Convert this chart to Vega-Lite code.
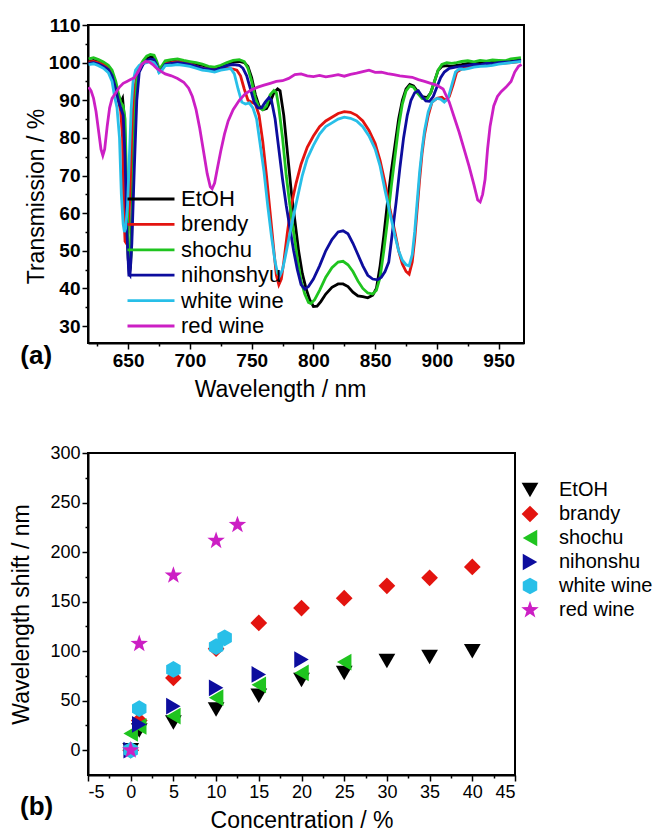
{
  "$schema": "https://vega.github.io/schema/vega-lite/v6.json",
  "padding": {"left": 9, "top": 15, "right": 0, "bottom": 0},
  "spacing": 41,
  "config": {
    "font": "Liberation Sans",
    "view": {"stroke": "black", "strokeWidth": 2},
    "axis": {"domainColor": "black", "domainWidth": 2, "tickColor": "black", "tickWidth": 1.5, "labelColor": "black", "titleColor": "black", "grid": false, "titleFontWeight": "normal", "titleFontSize": 23, "labelFont": "Liberation Sans", "titleFont": "Liberation Sans", "labelOverlap": false, "labelPadding": 2},
    "legend": {"labelFont": "Liberation Sans", "labelColor": "black", "padding": 0}
  },
  "datasets": {
    "spectra": [
      {"s":"EtOH","w":618,"t":100.3},{"s":"EtOH","w":622,"t":100.6},{"s":"EtOH","w":626,"t":100.2},{"s":"EtOH","w":630,"t":99.8},{"s":"EtOH","w":634,"t":99.0},{"s":"EtOH","w":637,"t":97.5},{"s":"EtOH","w":640,"t":94},{"s":"EtOH","w":642,"t":91.5},{"s":"EtOH","w":644,"t":89.5},{"s":"EtOH","w":645.5,"t":90.5},{"s":"EtOH","w":647,"t":85},{"s":"EtOH","w":648.5,"t":65},{"s":"EtOH","w":650,"t":48},{"s":"EtOH","w":651,"t":44},{"s":"EtOH","w":652,"t":46},{"s":"EtOH","w":653.5,"t":65},{"s":"EtOH","w":655,"t":82},{"s":"EtOH","w":657,"t":95},{"s":"EtOH","w":659,"t":98.5},{"s":"EtOH","w":662,"t":100},{"s":"EtOH","w":665,"t":101},{"s":"EtOH","w":668,"t":101.5},{"s":"EtOH","w":671,"t":101.5},{"s":"EtOH","w":673,"t":100},{"s":"EtOH","w":675,"t":98},{"s":"EtOH","w":677,"t":98.5},{"s":"EtOH","w":680,"t":100},{"s":"EtOH","w":685,"t":100.3},{"s":"EtOH","w":690,"t":100.5},{"s":"EtOH","w":695,"t":100.3},{"s":"EtOH","w":700,"t":100},{"s":"EtOH","w":705,"t":99.5},{"s":"EtOH","w":710,"t":99.3},{"s":"EtOH","w":715,"t":98.8},{"s":"EtOH","w":720,"t":98.5},{"s":"EtOH","w":725,"t":99},{"s":"EtOH","w":730,"t":99.5},{"s":"EtOH","w":735,"t":100.2},{"s":"EtOH","w":740,"t":100.3},{"s":"EtOH","w":744,"t":100},{"s":"EtOH","w":747,"t":99},{"s":"EtOH","w":750,"t":96},{"s":"EtOH","w":753,"t":91.5},{"s":"EtOH","w":756,"t":88.5},{"s":"EtOH","w":759,"t":87.5},{"s":"EtOH","w":762,"t":87.8},{"s":"EtOH","w":765,"t":89.5},{"s":"EtOH","w":768,"t":92},{"s":"EtOH","w":771,"t":93},{"s":"EtOH","w":773,"t":92.5},{"s":"EtOH","w":776,"t":86},{"s":"EtOH","w":779,"t":76},{"s":"EtOH","w":782,"t":66},{"s":"EtOH","w":785,"t":58},{"s":"EtOH","w":788,"t":50},{"s":"EtOH","w":791,"t":44},{"s":"EtOH","w":794,"t":40},{"s":"EtOH","w":797,"t":37},{"s":"EtOH","w":800,"t":35.2},{"s":"EtOH","w":803,"t":35.3},{"s":"EtOH","w":806,"t":36.5},{"s":"EtOH","w":810,"t":38.5},{"s":"EtOH","w":815,"t":40.3},{"s":"EtOH","w":820,"t":41.2},{"s":"EtOH","w":824,"t":41.2},{"s":"EtOH","w":828,"t":40.5},{"s":"EtOH","w":832,"t":39},{"s":"EtOH","w":836,"t":38},{"s":"EtOH","w":840,"t":37.8},{"s":"EtOH","w":844,"t":37.5},{"s":"EtOH","w":848,"t":38.2},{"s":"EtOH","w":851,"t":40},{"s":"EtOH","w":854,"t":46},{"s":"EtOH","w":857,"t":54},{"s":"EtOH","w":860,"t":63},{"s":"EtOH","w":863,"t":71},{"s":"EtOH","w":866,"t":78},{"s":"EtOH","w":869,"t":85},{"s":"EtOH","w":872,"t":90},{"s":"EtOH","w":875,"t":93},{"s":"EtOH","w":878,"t":94.2},{"s":"EtOH","w":881,"t":93.8},{"s":"EtOH","w":884,"t":92.5},{"s":"EtOH","w":888,"t":91},{"s":"EtOH","w":892,"t":90.7},{"s":"EtOH","w":895,"t":92},{"s":"EtOH","w":898,"t":95},{"s":"EtOH","w":901,"t":98},{"s":"EtOH","w":904,"t":99},{"s":"EtOH","w":908,"t":99.2},{"s":"EtOH","w":912,"t":99},{"s":"EtOH","w":916,"t":99.3},{"s":"EtOH","w":920,"t":99.5},{"s":"EtOH","w":925,"t":99.8},{"s":"EtOH","w":930,"t":99.7},{"s":"EtOH","w":935,"t":100},{"s":"EtOH","w":940,"t":99.8},{"s":"EtOH","w":945,"t":100.2},{"s":"EtOH","w":950,"t":100.3},{"s":"EtOH","w":955,"t":100.2},{"s":"EtOH","w":960,"t":100.5},{"s":"EtOH","w":965,"t":100.7},{"s":"EtOH","w":968,"t":101},
      {"s":"brendy","w":618,"t":100.2},{"s":"brendy","w":622,"t":100.3},{"s":"brendy","w":626,"t":100},{"s":"brendy","w":630,"t":99.5},{"s":"brendy","w":634,"t":98.5},{"s":"brendy","w":637,"t":97},{"s":"brendy","w":640,"t":93},{"s":"brendy","w":642,"t":90},{"s":"brendy","w":644,"t":87},{"s":"brendy","w":645.5,"t":80},{"s":"brendy","w":646.5,"t":60},{"s":"brendy","w":647.5,"t":52.5},{"s":"brendy","w":648.5,"t":52},{"s":"brendy","w":650,"t":55},{"s":"brendy","w":651.5,"t":65},{"s":"brendy","w":653,"t":80},{"s":"brendy","w":655,"t":92},{"s":"brendy","w":657,"t":97},{"s":"brendy","w":659,"t":98.8},{"s":"brendy","w":662,"t":99.8},{"s":"brendy","w":665,"t":100.5},{"s":"brendy","w":668,"t":100.8},{"s":"brendy","w":671,"t":100.5},{"s":"brendy","w":673,"t":99.5},{"s":"brendy","w":675,"t":97.8},{"s":"brendy","w":677,"t":98.3},{"s":"brendy","w":680,"t":99.8},{"s":"brendy","w":685,"t":100},{"s":"brendy","w":690,"t":100.3},{"s":"brendy","w":695,"t":100},{"s":"brendy","w":700,"t":99.7},{"s":"brendy","w":705,"t":99},{"s":"brendy","w":710,"t":98.5},{"s":"brendy","w":715,"t":98.3},{"s":"brendy","w":720,"t":98},{"s":"brendy","w":725,"t":98.3},{"s":"brendy","w":730,"t":98.5},{"s":"brendy","w":735,"t":98.3},{"s":"brendy","w":738,"t":98},{"s":"brendy","w":741,"t":96.5},{"s":"brendy","w":744,"t":93},{"s":"brendy","w":747,"t":90},{"s":"brendy","w":750,"t":89.5},{"s":"brendy","w":753,"t":89},{"s":"brendy","w":756,"t":86},{"s":"brendy","w":759,"t":79},{"s":"brendy","w":762,"t":70},{"s":"brendy","w":765,"t":60},{"s":"brendy","w":768,"t":50},{"s":"brendy","w":770,"t":43.5},{"s":"brendy","w":772,"t":41},{"s":"brendy","w":774,"t":42.5},{"s":"brendy","w":776,"t":47},{"s":"brendy","w":779,"t":55},{"s":"brendy","w":782,"t":62},{"s":"brendy","w":786,"t":68},{"s":"brendy","w":790,"t":73},{"s":"brendy","w":795,"t":77.5},{"s":"brendy","w":800,"t":80.5},{"s":"brendy","w":805,"t":83},{"s":"brendy","w":810,"t":84.5},{"s":"brendy","w":815,"t":85.5},{"s":"brendy","w":820,"t":86.5},{"s":"brendy","w":825,"t":87},{"s":"brendy","w":830,"t":86.8},{"s":"brendy","w":835,"t":86},{"s":"brendy","w":840,"t":84.5},{"s":"brendy","w":845,"t":82},{"s":"brendy","w":850,"t":78.5},{"s":"brendy","w":854,"t":74},{"s":"brendy","w":858,"t":68},{"s":"brendy","w":862,"t":61},{"s":"brendy","w":866,"t":55},{"s":"brendy","w":869,"t":50},{"s":"brendy","w":872,"t":46.5},{"s":"brendy","w":875,"t":44.5},{"s":"brendy","w":877.5,"t":43.8},{"s":"brendy","w":880,"t":47},{"s":"brendy","w":882,"t":53},{"s":"brendy","w":884,"t":61},{"s":"brendy","w":886,"t":69},{"s":"brendy","w":888,"t":76},{"s":"brendy","w":890,"t":81},{"s":"brendy","w":893,"t":86},{"s":"brendy","w":896,"t":89.5},{"s":"brendy","w":900,"t":90.5},{"s":"brendy","w":904,"t":90.8},{"s":"brendy","w":907,"t":90},{"s":"brendy","w":910,"t":91},{"s":"brendy","w":913,"t":94},{"s":"brendy","w":916,"t":97.5},{"s":"brendy","w":920,"t":98.3},{"s":"brendy","w":925,"t":98.8},{"s":"brendy","w":930,"t":99},{"s":"brendy","w":935,"t":99.2},{"s":"brendy","w":940,"t":99.3},{"s":"brendy","w":945,"t":99.5},{"s":"brendy","w":950,"t":99.8},{"s":"brendy","w":955,"t":99.9},{"s":"brendy","w":960,"t":100},{"s":"brendy","w":965,"t":100.2},{"s":"brendy","w":968,"t":100.4},
      {"s":"shochu","w":618,"t":101},{"s":"shochu","w":622,"t":101.3},{"s":"shochu","w":626,"t":100.8},{"s":"shochu","w":630,"t":100.2},{"s":"shochu","w":634,"t":99.3},{"s":"shochu","w":637,"t":98},{"s":"shochu","w":640,"t":95},{"s":"shochu","w":642,"t":92},{"s":"shochu","w":644,"t":89.5},{"s":"shochu","w":646,"t":88.5},{"s":"shochu","w":647.5,"t":85},{"s":"shochu","w":649,"t":65},{"s":"shochu","w":650.5,"t":50},{"s":"shochu","w":651.5,"t":45.5},{"s":"shochu","w":652.5,"t":50},{"s":"shochu","w":654,"t":68},{"s":"shochu","w":655.5,"t":85},{"s":"shochu","w":657,"t":95},{"s":"shochu","w":659,"t":98.8},{"s":"shochu","w":662,"t":100.5},{"s":"shochu","w":665,"t":101.7},{"s":"shochu","w":668,"t":102.2},{"s":"shochu","w":671,"t":102},{"s":"shochu","w":673,"t":100.5},{"s":"shochu","w":675,"t":98.5},{"s":"shochu","w":677,"t":99},{"s":"shochu","w":680,"t":100.5},{"s":"shochu","w":685,"t":100.8},{"s":"shochu","w":690,"t":101},{"s":"shochu","w":695,"t":100.6},{"s":"shochu","w":700,"t":100.3},{"s":"shochu","w":705,"t":100},{"s":"shochu","w":710,"t":99.6},{"s":"shochu","w":715,"t":99},{"s":"shochu","w":720,"t":98.8},{"s":"shochu","w":725,"t":99.3},{"s":"shochu","w":730,"t":100},{"s":"shochu","w":735,"t":100.6},{"s":"shochu","w":740,"t":100.8},{"s":"shochu","w":744,"t":100.3},{"s":"shochu","w":747,"t":98.5},{"s":"shochu","w":750,"t":95},{"s":"shochu","w":753,"t":90.5},{"s":"shochu","w":756,"t":88},{"s":"shochu","w":759,"t":87.5},{"s":"shochu","w":762,"t":88.5},{"s":"shochu","w":765,"t":91.5},{"s":"shochu","w":768,"t":92.6},{"s":"shochu","w":770,"t":92},{"s":"shochu","w":772,"t":88},{"s":"shochu","w":775,"t":80},{"s":"shochu","w":778,"t":70},{"s":"shochu","w":781,"t":62},{"s":"shochu","w":784,"t":55},{"s":"shochu","w":787,"t":48},{"s":"shochu","w":790,"t":42},{"s":"shochu","w":793,"t":38.5},{"s":"shochu","w":796,"t":36.3},{"s":"shochu","w":798,"t":36},{"s":"shochu","w":801,"t":37},{"s":"shochu","w":805,"t":39.5},{"s":"shochu","w":810,"t":43},{"s":"shochu","w":815,"t":45.5},{"s":"shochu","w":820,"t":47},{"s":"shochu","w":824,"t":47.2},{"s":"shochu","w":828,"t":46.3},{"s":"shochu","w":832,"t":44.5},{"s":"shochu","w":836,"t":42},{"s":"shochu","w":840,"t":40},{"s":"shochu","w":844,"t":38.8},{"s":"shochu","w":848,"t":38.5},{"s":"shochu","w":851,"t":39.5},{"s":"shochu","w":854,"t":43},{"s":"shochu","w":857,"t":50},{"s":"shochu","w":860,"t":58},{"s":"shochu","w":863,"t":67},{"s":"shochu","w":866,"t":75},{"s":"shochu","w":869,"t":83},{"s":"shochu","w":872,"t":89},{"s":"shochu","w":875,"t":92.5},{"s":"shochu","w":878,"t":93.8},{"s":"shochu","w":881,"t":93.5},{"s":"shochu","w":884,"t":92},{"s":"shochu","w":888,"t":90.5},{"s":"shochu","w":892,"t":90.3},{"s":"shochu","w":895,"t":92},{"s":"shochu","w":898,"t":95},{"s":"shochu","w":901,"t":98},{"s":"shochu","w":904,"t":99.5},{"s":"shochu","w":908,"t":100},{"s":"shochu","w":912,"t":99.8},{"s":"shochu","w":916,"t":100},{"s":"shochu","w":920,"t":100.3},{"s":"shochu","w":925,"t":100.5},{"s":"shochu","w":930,"t":100.2},{"s":"shochu","w":935,"t":100.6},{"s":"shochu","w":940,"t":100.4},{"s":"shochu","w":945,"t":100.7},{"s":"shochu","w":950,"t":100.6},{"s":"shochu","w":955,"t":100.5},{"s":"shochu","w":960,"t":101},{"s":"shochu","w":965,"t":101.2},{"s":"shochu","w":968,"t":101.3},
      {"s":"nihonshyu","w":618,"t":99.8},{"s":"nihonshyu","w":622,"t":100},{"s":"nihonshyu","w":626,"t":99.6},{"s":"nihonshyu","w":630,"t":99},{"s":"nihonshyu","w":634,"t":98.2},{"s":"nihonshyu","w":637,"t":96.5},{"s":"nihonshyu","w":640,"t":93},{"s":"nihonshyu","w":642,"t":90},{"s":"nihonshyu","w":644,"t":88},{"s":"nihonshyu","w":646,"t":86},{"s":"nihonshyu","w":647.5,"t":75},{"s":"nihonshyu","w":649,"t":55},{"s":"nihonshyu","w":650.5,"t":44},{"s":"nihonshyu","w":651.5,"t":43.5},{"s":"nihonshyu","w":653,"t":52},{"s":"nihonshyu","w":655,"t":72},{"s":"nihonshyu","w":657,"t":90},{"s":"nihonshyu","w":659,"t":97.5},{"s":"nihonshyu","w":662,"t":99.5},{"s":"nihonshyu","w":665,"t":100.5},{"s":"nihonshyu","w":668,"t":101},{"s":"nihonshyu","w":671,"t":100.8},{"s":"nihonshyu","w":673,"t":99.5},{"s":"nihonshyu","w":675,"t":97.5},{"s":"nihonshyu","w":677,"t":98},{"s":"nihonshyu","w":680,"t":99.5},{"s":"nihonshyu","w":685,"t":99.8},{"s":"nihonshyu","w":690,"t":100},{"s":"nihonshyu","w":695,"t":99.8},{"s":"nihonshyu","w":700,"t":99.5},{"s":"nihonshyu","w":705,"t":99},{"s":"nihonshyu","w":710,"t":98.5},{"s":"nihonshyu","w":715,"t":98.3},{"s":"nihonshyu","w":720,"t":98},{"s":"nihonshyu","w":725,"t":98.5},{"s":"nihonshyu","w":730,"t":99.2},{"s":"nihonshyu","w":735,"t":99.5},{"s":"nihonshyu","w":740,"t":99.3},{"s":"nihonshyu","w":743,"t":98.5},{"s":"nihonshyu","w":746,"t":96.5},{"s":"nihonshyu","w":749,"t":93},{"s":"nihonshyu","w":752,"t":89.5},{"s":"nihonshyu","w":755,"t":88},{"s":"nihonshyu","w":758,"t":88},{"s":"nihonshyu","w":761,"t":89.5},{"s":"nihonshyu","w":764,"t":90.7},{"s":"nihonshyu","w":766,"t":90},{"s":"nihonshyu","w":769,"t":85},{"s":"nihonshyu","w":772,"t":77},{"s":"nihonshyu","w":775,"t":69},{"s":"nihonshyu","w":778,"t":62},{"s":"nihonshyu","w":781,"t":56},{"s":"nihonshyu","w":784,"t":50},{"s":"nihonshyu","w":787,"t":45},{"s":"nihonshyu","w":790,"t":41},{"s":"nihonshyu","w":793,"t":39.8},{"s":"nihonshyu","w":796,"t":40.5},{"s":"nihonshyu","w":800,"t":42.5},{"s":"nihonshyu","w":805,"t":46},{"s":"nihonshyu","w":810,"t":50},{"s":"nihonshyu","w":815,"t":53},{"s":"nihonshyu","w":820,"t":55},{"s":"nihonshyu","w":824,"t":55.3},{"s":"nihonshyu","w":828,"t":54.5},{"s":"nihonshyu","w":832,"t":52},{"s":"nihonshyu","w":836,"t":49},{"s":"nihonshyu","w":840,"t":46},{"s":"nihonshyu","w":844,"t":43.5},{"s":"nihonshyu","w":848,"t":42.5},{"s":"nihonshyu","w":852,"t":42.3},{"s":"nihonshyu","w":855,"t":43},{"s":"nihonshyu","w":858,"t":44.5},{"s":"nihonshyu","w":861,"t":47},{"s":"nihonshyu","w":864,"t":55},{"s":"nihonshyu","w":867,"t":63},{"s":"nihonshyu","w":870,"t":72},{"s":"nihonshyu","w":873,"t":80},{"s":"nihonshyu","w":876,"t":86},{"s":"nihonshyu","w":879,"t":90},{"s":"nihonshyu","w":882,"t":92},{"s":"nihonshyu","w":885,"t":92.5},{"s":"nihonshyu","w":888,"t":91},{"s":"nihonshyu","w":891,"t":89.8},{"s":"nihonshyu","w":894,"t":89.7},{"s":"nihonshyu","w":897,"t":91},{"s":"nihonshyu","w":900,"t":93.5},{"s":"nihonshyu","w":903,"t":96},{"s":"nihonshyu","w":906,"t":97.5},{"s":"nihonshyu","w":910,"t":98.5},{"s":"nihonshyu","w":915,"t":98.8},{"s":"nihonshyu","w":920,"t":99},{"s":"nihonshyu","w":925,"t":99.3},{"s":"nihonshyu","w":930,"t":99.5},{"s":"nihonshyu","w":935,"t":99.4},{"s":"nihonshyu","w":940,"t":99.8},{"s":"nihonshyu","w":945,"t":99.7},{"s":"nihonshyu","w":950,"t":100},{"s":"nihonshyu","w":955,"t":100.1},{"s":"nihonshyu","w":960,"t":100.2},{"s":"nihonshyu","w":965,"t":100.4},{"s":"nihonshyu","w":968,"t":100.6},
      {"s":"white wine","w":618,"t":99.5},{"s":"white wine","w":622,"t":99.7},{"s":"white wine","w":626,"t":99.2},{"s":"white wine","w":630,"t":98.5},{"s":"white wine","w":634,"t":97.3},{"s":"white wine","w":637,"t":95},{"s":"white wine","w":639,"t":91},{"s":"white wine","w":641,"t":88},{"s":"white wine","w":643,"t":80},{"s":"white wine","w":644.5,"t":65},{"s":"white wine","w":646,"t":57},{"s":"white wine","w":647,"t":55},{"s":"white wine","w":648,"t":56},{"s":"white wine","w":649.5,"t":62},{"s":"white wine","w":651,"t":75},{"s":"white wine","w":652.5,"t":88},{"s":"white wine","w":654,"t":95},{"s":"white wine","w":656,"t":98},{"s":"white wine","w":659,"t":99.3},{"s":"white wine","w":662,"t":99.8},{"s":"white wine","w":665,"t":100},{"s":"white wine","w":668,"t":100.3},{"s":"white wine","w":671,"t":100},{"s":"white wine","w":673,"t":99},{"s":"white wine","w":675,"t":97.3},{"s":"white wine","w":677,"t":97.8},{"s":"white wine","w":680,"t":99.2},{"s":"white wine","w":685,"t":99.3},{"s":"white wine","w":690,"t":99.5},{"s":"white wine","w":695,"t":99.3},{"s":"white wine","w":700,"t":99},{"s":"white wine","w":705,"t":98.5},{"s":"white wine","w":710,"t":98},{"s":"white wine","w":715,"t":97.8},{"s":"white wine","w":720,"t":97.5},{"s":"white wine","w":725,"t":98},{"s":"white wine","w":730,"t":98.3},{"s":"white wine","w":733,"t":98.5},{"s":"white wine","w":736,"t":97},{"s":"white wine","w":739,"t":93},{"s":"white wine","w":742,"t":89.5},{"s":"white wine","w":745,"t":89},{"s":"white wine","w":748,"t":89.3},{"s":"white wine","w":751,"t":88},{"s":"white wine","w":754,"t":85},{"s":"white wine","w":757,"t":78},{"s":"white wine","w":760,"t":71},{"s":"white wine","w":763,"t":62},{"s":"white wine","w":766,"t":54},{"s":"white wine","w":769,"t":47},{"s":"white wine","w":771,"t":44},{"s":"white wine","w":773,"t":43.5},{"s":"white wine","w":775,"t":45},{"s":"white wine","w":777,"t":48},{"s":"white wine","w":780,"t":53},{"s":"white wine","w":783,"t":58},{"s":"white wine","w":787,"t":64},{"s":"white wine","w":791,"t":70},{"s":"white wine","w":795,"t":74.5},{"s":"white wine","w":800,"t":78},{"s":"white wine","w":805,"t":81},{"s":"white wine","w":810,"t":83},{"s":"white wine","w":815,"t":84},{"s":"white wine","w":820,"t":85},{"s":"white wine","w":825,"t":85.5},{"s":"white wine","w":830,"t":85.2},{"s":"white wine","w":835,"t":84.5},{"s":"white wine","w":840,"t":83},{"s":"white wine","w":845,"t":80.5},{"s":"white wine","w":850,"t":77},{"s":"white wine","w":854,"t":72.5},{"s":"white wine","w":858,"t":66},{"s":"white wine","w":862,"t":60},{"s":"white wine","w":866,"t":54},{"s":"white wine","w":869,"t":50},{"s":"white wine","w":872,"t":47.5},{"s":"white wine","w":875,"t":46.3},{"s":"white wine","w":877.5,"t":46},{"s":"white wine","w":880,"t":49},{"s":"white wine","w":882,"t":55},{"s":"white wine","w":884,"t":63},{"s":"white wine","w":886,"t":71},{"s":"white wine","w":888,"t":77},{"s":"white wine","w":890,"t":82},{"s":"white wine","w":893,"t":87},{"s":"white wine","w":896,"t":89.5},{"s":"white wine","w":900,"t":90.5},{"s":"white wine","w":903,"t":90.3},{"s":"white wine","w":906,"t":89.5},{"s":"white wine","w":909,"t":90.5},{"s":"white wine","w":912,"t":94},{"s":"white wine","w":915,"t":97.5},{"s":"white wine","w":918,"t":98.3},{"s":"white wine","w":922,"t":98.2},{"s":"white wine","w":926,"t":98.5},{"s":"white wine","w":930,"t":98.8},{"s":"white wine","w":935,"t":99},{"s":"white wine","w":940,"t":99.1},{"s":"white wine","w":945,"t":99.3},{"s":"white wine","w":950,"t":99.6},{"s":"white wine","w":955,"t":99.8},{"s":"white wine","w":960,"t":100},{"s":"white wine","w":965,"t":100.2},{"s":"white wine","w":968,"t":100.3},
      {"s":"red wine","w":618,"t":93.5},{"s":"red wine","w":620,"t":92.5},{"s":"red wine","w":622,"t":90.5},{"s":"red wine","w":624,"t":87},{"s":"red wine","w":626,"t":82},{"s":"red wine","w":628,"t":77},{"s":"red wine","w":629.5,"t":75.3},{"s":"red wine","w":631,"t":77},{"s":"red wine","w":633,"t":83},{"s":"red wine","w":635,"t":88},{"s":"red wine","w":637,"t":90.5},{"s":"red wine","w":640,"t":92},{"s":"red wine","w":643,"t":93.5},{"s":"red wine","w":646,"t":94.5},{"s":"red wine","w":649,"t":95},{"s":"red wine","w":652,"t":95.5},{"s":"red wine","w":655,"t":96},{"s":"red wine","w":658,"t":97.5},{"s":"red wine","w":661,"t":99.5},{"s":"red wine","w":664,"t":100.3},{"s":"red wine","w":667,"t":100.2},{"s":"red wine","w":670,"t":99.5},{"s":"red wine","w":673,"t":98.5},{"s":"red wine","w":676,"t":97.8},{"s":"red wine","w":680,"t":97},{"s":"red wine","w":685,"t":96.5},{"s":"red wine","w":690,"t":95.8},{"s":"red wine","w":695,"t":94.8},{"s":"red wine","w":699,"t":93.2},{"s":"red wine","w":702,"t":91},{"s":"red wine","w":705,"t":87.5},{"s":"red wine","w":708,"t":82.5},{"s":"red wine","w":711,"t":76.5},{"s":"red wine","w":714,"t":70.5},{"s":"red wine","w":716.5,"t":67},{"s":"red wine","w":718,"t":66.5},{"s":"red wine","w":720,"t":68},{"s":"red wine","w":722,"t":71.5},{"s":"red wine","w":725,"t":76.5},{"s":"red wine","w":728,"t":81},{"s":"red wine","w":731,"t":84.5},{"s":"red wine","w":735,"t":87.5},{"s":"red wine","w":740,"t":90},{"s":"red wine","w":745,"t":91.8},{"s":"red wine","w":750,"t":92.8},{"s":"red wine","w":755,"t":93.5},{"s":"red wine","w":760,"t":94},{"s":"red wine","w":765,"t":94.5},{"s":"red wine","w":770,"t":95},{"s":"red wine","w":775,"t":95.2},{"s":"red wine","w":780,"t":95.8},{"s":"red wine","w":785,"t":96.8},{"s":"red wine","w":790,"t":97},{"s":"red wine","w":795,"t":96.5},{"s":"red wine","w":800,"t":96.3},{"s":"red wine","w":805,"t":96.6},{"s":"red wine","w":810,"t":96.2},{"s":"red wine","w":815,"t":96.5},{"s":"red wine","w":820,"t":96.8},{"s":"red wine","w":825,"t":96.4},{"s":"red wine","w":830,"t":96.9},{"s":"red wine","w":835,"t":97.2},{"s":"red wine","w":840,"t":97.6},{"s":"red wine","w":845,"t":98},{"s":"red wine","w":850,"t":97.4},{"s":"red wine","w":855,"t":97.5},{"s":"red wine","w":860,"t":97.1},{"s":"red wine","w":865,"t":96.8},{"s":"red wine","w":870,"t":96.5},{"s":"red wine","w":875,"t":96.3},{"s":"red wine","w":880,"t":96.1},{"s":"red wine","w":885,"t":95.5},{"s":"red wine","w":890,"t":95},{"s":"red wine","w":895,"t":94.5},{"s":"red wine","w":900,"t":94},{"s":"red wine","w":905,"t":93},{"s":"red wine","w":910,"t":89.5},{"s":"red wine","w":914,"t":85.5},{"s":"red wine","w":918,"t":81.5},{"s":"red wine","w":922,"t":77},{"s":"red wine","w":926,"t":72.5},{"s":"red wine","w":930,"t":67.5},{"s":"red wine","w":933,"t":63.5},{"s":"red wine","w":935,"t":63},{"s":"red wine","w":937,"t":65},{"s":"red wine","w":939,"t":69},{"s":"red wine","w":941,"t":77},{"s":"red wine","w":943,"t":83},{"s":"red wine","w":946,"t":88.5},{"s":"red wine","w":949,"t":91},{"s":"red wine","w":952,"t":92.3},{"s":"red wine","w":956,"t":93.5},{"s":"red wine","w":960,"t":95},{"s":"red wine","w":963,"t":97.5},{"s":"red wine","w":966,"t":99},{"s":"red wine","w":968.5,"t":99.5}
    ],
    "shift": [
      {"s":"EtOH","c":0,"v":0},{"s":"EtOH","c":1,"v":20},{"s":"EtOH","c":5,"v":28},{"s":"EtOH","c":10,"v":41},{"s":"EtOH","c":15,"v":55},{"s":"EtOH","c":20,"v":71},{"s":"EtOH","c":25,"v":78},{"s":"EtOH","c":30,"v":90},{"s":"EtOH","c":35,"v":94},{"s":"EtOH","c":40,"v":100},
      {"s":"brandy","c":0,"v":0},{"s":"brandy","c":1,"v":30},{"s":"brandy","c":5,"v":73},{"s":"brandy","c":10,"v":102.5},{"s":"brandy","c":15,"v":128.5},{"s":"brandy","c":20,"v":143.5},{"s":"brandy","c":25,"v":153.5},{"s":"brandy","c":30,"v":166},{"s":"brandy","c":35,"v":174},{"s":"brandy","c":40,"v":185},
      {"s":"shochu","c":0,"v":17},{"s":"shochu","c":1,"v":24},{"s":"shochu","c":5,"v":34.5},{"s":"shochu","c":10,"v":53},{"s":"shochu","c":15,"v":66},{"s":"shochu","c":20,"v":78},{"s":"shochu","c":25,"v":89},
      {"s":"nihonshu","c":0,"v":0},{"s":"nihonshu","c":1,"v":26},{"s":"nihonshu","c":5,"v":44.5},{"s":"nihonshu","c":10,"v":63},{"s":"nihonshu","c":15,"v":76.5},{"s":"nihonshu","c":20,"v":91.5},
      {"s":"white wine","c":0,"v":0},{"s":"white wine","c":1,"v":42},{"s":"white wine","c":5,"v":81.5},{"s":"white wine","c":10,"v":104.5},{"s":"white wine","c":11,"v":113.5},
      {"s":"red wine","c":0,"v":0},{"s":"red wine","c":1,"v":107.5},{"s":"red wine","c":5,"v":176.5},{"s":"red wine","c":10,"v":211.5},{"s":"red wine","c":12.5,"v":227.5}
    ]
  },
  "vconcat": [
    {
      "width": 436,
      "height": 318,
      "data": {"name": "spectra"},
      "title": {"text": "(a)", "orient": "bottom", "anchor": "start", "frame": "bounds", "fontSize": 26, "fontWeight": "bold", "font": "Liberation Sans", "color": "black", "dx": -5, "dy": -62},
      "mark": {"type": "line", "strokeWidth": 2.8, "clip": true},
      "encoding": {
        "x": {"field": "w", "type": "quantitative", "scale": {"domain": [617.5, 970.5], "nice": false, "zero": false},
          "axis": {"title": "Wavelength / nm", "titleX": 192, "titlePadding": 8, "values": [625,650,675,700,725,750,775,800,825,850,875,900,925,950], "labelExpr": "datum.value % 50 == 0 ? datum.label : ''", "labelFontSize": 19, "labelFontWeight": "bold", "tickSize": {"condition": {"test": "datum.value % 50 != 0", "value": 3}, "value": 6}}},
        "y": {"field": "t", "type": "quantitative", "scale": {"domain": [25.5, 110], "nice": false, "zero": false},
          "axis": {"title": "Transmission / %", "titleY": 171, "titlePadding": 0, "values": [30,35,40,45,50,55,60,65,70,75,80,85,90,95,100,105,110], "labelExpr": "datum.value % 10 == 0 ? datum.label : ''", "labelFontSize": 19, "labelFontWeight": "bold", "tickSize": {"condition": {"test": "datum.value % 10 != 0", "value": 3}, "value": 6}}},
        "color": {"field": "s", "type": "nominal", "sort": null,
          "scale": {"domain": ["EtOH","brendy","shochu","nihonshyu","white wine","red wine"], "range": ["#000000","#e3140f","#1fc41f","#0d0d9e","#28bfe8","#cc1fc4"]},
          "legend": {"title": null, "orient": "none", "legendX": 52, "legendY": 163, "symbolType": "M-4,0L4,0", "symbolSize": 138, "symbolStrokeWidth": 2.8, "labelFontSize": 22, "labelOffset": 19, "rowPadding": 3.4}}
      }
    },
    {
      "width": 427,
      "height": 322,
      "data": {"name": "shift"},
      "title": {"text": "(b)", "orient": "bottom", "anchor": "start", "frame": "bounds", "fontSize": 26, "fontWeight": "bold", "font": "Liberation Sans", "color": "black", "dx": 9, "dy": -42},
      "mark": {"type": "point", "filled": true, "opacity": 1, "size": 280},
      "encoding": {
        "x": {"field": "c", "type": "quantitative", "scale": {"domain": [-5, 45], "nice": false, "zero": false},
          "axis": {"title": "Concentration / %", "titlePadding": 8, "values": [-5,-2.5,0,2.5,5,7.5,10,12.5,15,17.5,20,22.5,25,27.5,30,32.5,35,37.5,40,42.5,45], "labelExpr": "datum.value % 5 == 0 ? '' + datum.value : ''", "labelFontSize": 18, "tickSize": {"condition": {"test": "datum.value % 5 != 0", "value": 3}, "value": 6}}},
        "y": {"field": "v", "type": "quantitative", "scale": {"domain": [-25, 300], "nice": false, "zero": false},
          "axis": {"title": "Wavelength shift / nm", "titlePadding": 16, "values": [0,25,50,75,100,125,150,175,200,225,250,275,300], "labelExpr": "datum.value % 50 == 0 ? '' + datum.value : ''", "labelFontSize": 18, "tickSize": {"condition": {"test": "datum.value % 50 != 0", "value": 3}, "value": 6}}},
        "color": {"field": "s", "type": "nominal", "sort": null,
          "scale": {"domain": ["EtOH","brandy","shochu","nihonshu","white wine","red wine"], "range": ["#000000","#e3140f","#1fc41f","#0d0d9e","#28bfe8","#cc1fc4"]},
          "legend": {"title": null, "orient": "none", "legendX": 432, "legendY": 27, "symbolSize": 280, "labelFontSize": 20, "labelOffset": 19, "rowPadding": 4, "symbolStrokeWidth": 0}},
        "shape": {"field": "s", "type": "nominal", "sort": null,
          "scale": {"domain": ["EtOH","brandy","shochu","nihonshu","white wine","red wine"], "range": ["triangle-down","diamond","triangle-left","triangle-right","M0,-1L0.866,-0.5L0.866,0.5L0,1L-0.866,0.5L-0.866,-0.5Z","M0,-1.1L0.259,-0.356L1.046,-0.34L0.418,0.136L0.647,0.89L0,0.44L-0.647,0.89L-0.418,0.136L-1.046,-0.34L-0.259,-0.356Z"]},
          "legend": {"title": null, "orient": "none", "legendX": 432, "legendY": 27, "symbolSize": 280, "labelFontSize": 20, "labelOffset": 19, "rowPadding": 4, "symbolStrokeWidth": 0}}
      }
    }
  ],
  "resolve": {"scale": {"color": "independent", "shape": "independent"}, "legend": {"color": "independent", "shape": "independent"}}
}
